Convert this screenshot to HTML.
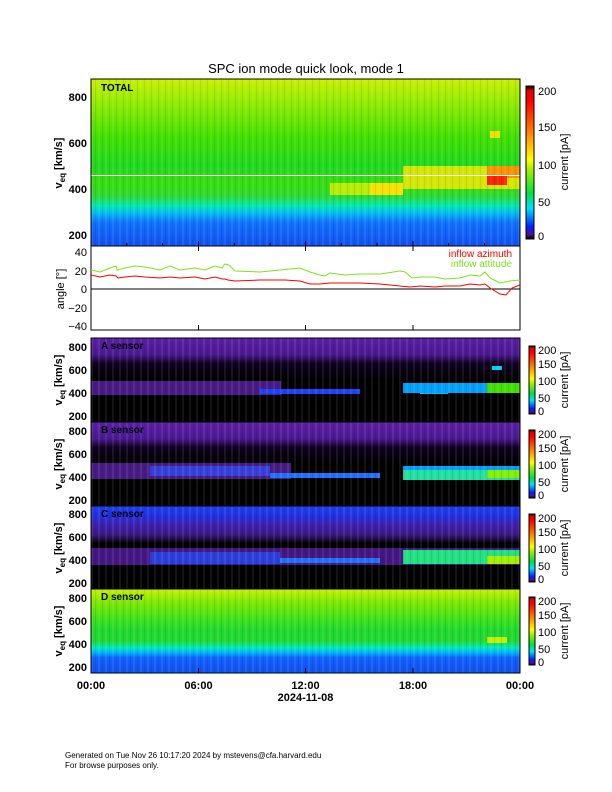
<!DOCTYPE html>
<html><head><meta charset="utf-8"><style>
html,body{margin:0;padding:0;background:#fff}
svg{display:block}
text{font-family:"Liberation Sans",sans-serif}
</style></head><body>
<svg width="612" height="792" viewBox="0 0 612 792" xmlns="http://www.w3.org/2000/svg">
<defs>
<linearGradient id="cb" x1="0" y1="1" x2="0" y2="0">
<stop offset="0" stop-color="#000"/><stop offset="0.03" stop-color="#5010a0"/><stop offset="0.08" stop-color="#0020ff"/>
<stop offset="0.2" stop-color="#00e0ff"/><stop offset="0.3" stop-color="#00e040"/><stop offset="0.45" stop-color="#a0f000"/>
<stop offset="0.52" stop-color="#ffff00"/><stop offset="0.7" stop-color="#ff8000"/><stop offset="0.9" stop-color="#ff0000"/>
<stop offset="0.97" stop-color="#e00000"/><stop offset="1" stop-color="#000"/></linearGradient>
<linearGradient id="gt" x1="0" y1="0" x2="0" y2="1">
<stop offset="0" stop-color="#c8f000"/><stop offset="0.12" stop-color="#9aec00"/><stop offset="0.35" stop-color="#40e000"/>
<stop offset="0.52" stop-color="#20d820"/><stop offset="0.62" stop-color="#38dc10"/><stop offset="0.7" stop-color="#30d830"/>
<stop offset="0.76" stop-color="#00e8b0"/><stop offset="0.8" stop-color="#00c0f0"/><stop offset="0.86" stop-color="#1070ff"/>
<stop offset="1" stop-color="#1050f0"/></linearGradient>
<linearGradient id="gd" x1="0" y1="0" x2="0" y2="1">
<stop offset="0" stop-color="#c8f000"/><stop offset="0.15" stop-color="#80e800"/><stop offset="0.4" stop-color="#30e020"/>
<stop offset="0.5" stop-color="#20d830"/><stop offset="0.62" stop-color="#20d830"/><stop offset="0.7" stop-color="#00e8c0"/>
<stop offset="0.76" stop-color="#00b0ff"/><stop offset="0.82" stop-color="#1060ff"/><stop offset="1" stop-color="#1050f0"/></linearGradient>
<linearGradient id="ga" x1="0" y1="0" x2="0" y2="1">
<stop offset="0" stop-color="#5a20a8"/><stop offset="0.2" stop-color="#4a1890"/><stop offset="0.3" stop-color="#100020"/>
<stop offset="0.5" stop-color="#000"/><stop offset="1" stop-color="#000"/></linearGradient>
<linearGradient id="gc" x1="0" y1="0" x2="0" y2="1">
<stop offset="0" stop-color="#2040f0"/><stop offset="0.12" stop-color="#2030e0"/><stop offset="0.22" stop-color="#4020b0"/>
<stop offset="0.35" stop-color="#3a1880"/><stop offset="0.45" stop-color="#000"/><stop offset="1" stop-color="#000"/></linearGradient>
<pattern id="st" width="7" height="10" patternUnits="userSpaceOnUse">
<rect x="0" y="0" width="2" height="10" fill="#fff" opacity="0.08"/><rect x="4" y="0" width="1" height="10" fill="#000" opacity="0.08"/></pattern>
</defs>

<text x="306" y="73" font-size="13" text-anchor="middle">SPC ion mode quick look, mode 1</text>

<!-- TOTAL panel -->
<rect x="91" y="79" width="429" height="167" fill="url(#gt)"/>
<rect x="403" y="166" width="117" height="23" fill="#f0e800" opacity="0.85"/>
<rect x="330" y="183" width="73" height="12" fill="#d8f000" opacity="0.8"/>
<rect x="370" y="183" width="33" height="12" fill="#f8e000"/>
<rect x="487" y="166" width="33" height="12" fill="#ff9000"/>
<rect x="487" y="175" width="20" height="10" fill="#ff2000"/>
<rect x="490" y="131" width="10" height="7" fill="#f0e000"/>
<rect x="91" y="79" width="429" height="167" fill="url(#st)"/>
<line x1="91" y1="175.5" x2="520" y2="175.5" stroke="#fff" stroke-width="1"/>
<text x="101" y="91" font-size="10" font-weight="bold">TOTAL</text>
<rect x="91" y="79" width="429" height="167" fill="none" stroke="#000"/>

<!-- angle panel -->
<rect x="91" y="246" width="429" height="84" fill="#fff" stroke="#000"/>
<line x1="91" y1="289" x2="520" y2="289" stroke="#000"/>
<polyline fill="none" stroke="#80e020" stroke-width="1" points="91,270 100,272 110,268 116,266 117,270 125,268 135,266 145,267 160,270 170,266 180,270 195,268 205,270 215,266 222,268 224,265 225,264 229,265 235,271 260,272 280,270 300,268 310,272 320,275 325,276 330,273 345,275 360,274 380,274 400,271 405,272 412,278 420,277 435,277 445,279 460,278 470,275 480,276 485,272 490,278 500,283 510,281 520,280"/>
<polyline fill="none" stroke="#ff0000" stroke-width="1" points="91,275 100,277 110,275 116,276 118,278 125,277 135,276 145,277 160,278 170,277 180,278 195,277 205,279 215,277 222,279 225,279 228,280 235,281 260,280 285,280 300,281 310,284 320,284 330,283 345,283 360,283 380,284 400,286 410,287 420,286 435,287 445,286 460,286 470,284 480,285 485,284 490,288 500,294 506,295 512,288 520,285"/>
<text x="512" y="257" font-size="10" fill="#ff0000" text-anchor="end">inflow azimuth</text>
<text x="512" y="267" font-size="10" fill="#80e020" text-anchor="end">inflow attitude</text>

<!-- A sensor -->
<rect x="91" y="338" width="429" height="84" fill="url(#ga)"/>
<rect x="91" y="381" width="190" height="14" fill="#5a20a8" opacity="0.8"/>
<rect x="260" y="389" width="100" height="5" fill="#2040ff"/>
<rect x="420" y="388" width="28" height="6" fill="#00c0f0"/>
<rect x="403" y="383" width="117" height="10" fill="#00a0ff"/>
<rect x="487" y="383" width="33" height="10" fill="#40e000"/>
<rect x="492" y="366" width="10" height="4" fill="#00d0ff"/>
<rect x="91" y="338" width="429" height="84" fill="url(#st)"/>
<text x="101" y="349" font-size="10" font-weight="bold">A sensor</text>
<rect x="91" y="338" width="429" height="84" fill="none" stroke="#000"/>

<!-- B sensor -->
<rect x="91" y="422" width="429" height="84" fill="url(#ga)"/>
<rect x="91" y="463" width="200" height="16" fill="#5a20a8" opacity="0.8"/>
<rect x="150" y="466" width="120" height="10" fill="#3050ff" opacity="0.7"/>
<rect x="270" y="473" width="110" height="5" fill="#2070ff"/>
<rect x="403" y="466" width="117" height="14" fill="#20e0a0"/>
<rect x="403" y="466" width="117" height="4" fill="#00a0ff"/>
<rect x="487" y="470" width="33" height="8" fill="#80f000"/>
<rect x="91" y="422" width="429" height="84" fill="url(#st)"/>
<text x="101" y="433" font-size="10" font-weight="bold">B sensor</text>
<rect x="91" y="422" width="429" height="84" fill="none" stroke="#000"/>

<!-- C sensor -->
<rect x="91" y="506" width="429" height="83" fill="url(#gc)"/>
<rect x="91" y="548" width="429" height="17" fill="#4a1890" opacity="0.9"/>
<rect x="150" y="552" width="130" height="12" fill="#2050ff" opacity="0.7"/>
<rect x="280" y="558" width="100" height="5" fill="#2070ff"/>
<rect x="403" y="550" width="117" height="14" fill="#20e080"/>
<rect x="487" y="556" width="33" height="8" fill="#a0f000"/>
<rect x="91" y="506" width="429" height="83" fill="url(#st)"/>
<text x="101" y="517" font-size="10" font-weight="bold">C sensor</text>
<rect x="91" y="506" width="429" height="83" fill="none" stroke="#000"/>

<!-- D sensor -->
<rect x="91" y="589" width="429" height="84" fill="url(#gd)"/>
<rect x="487" y="637" width="20" height="6" fill="#c0f000"/>
<rect x="91" y="589" width="429" height="84" fill="url(#st)"/>
<text x="101" y="600" font-size="10" font-weight="bold">D sensor</text>
<rect x="91" y="589" width="429" height="84" fill="none" stroke="#000"/>

<!-- x ticks -->
<g stroke="#000" stroke-width="1">
<path d="M91,246v-5M126.8,246v-3M162.5,246v-3M198.5,246v-5M234.3,246v-3M270,246v-3M305.5,246v-5M341.3,246v-3M377,246v-3M413,246v-5M448.7,246v-3M484.5,246v-3
M198.5,246v5M305.5,246v5M413,246v5M198.5,330v-5M305.5,330v-5M413,330v-5
M198.5,673v-5M305.5,673v-5M413,673v-5"/>
</g>

<!-- y labels -->
<g font-size="11" font-weight="bold" text-anchor="end">
<text x="87" y="101">800</text><text x="87" y="147">600</text><text x="87" y="193">400</text><text x="87" y="239">200</text>
<text x="87" y="351">800</text><text x="87" y="374">600</text><text x="87" y="397">400</text><text x="87" y="420">200</text>
<text x="87" y="435">800</text><text x="87" y="458">600</text><text x="87" y="481">400</text><text x="87" y="504">200</text>
<text x="87" y="518">800</text><text x="87" y="541">600</text><text x="87" y="564">400</text><text x="87" y="587">200</text>
<text x="87" y="602">800</text><text x="87" y="625">600</text><text x="87" y="648">400</text><text x="87" y="671">200</text>
</g>
<g font-size="11" text-anchor="end">
<text x="87" y="256">40</text><text x="87" y="275">20</text><text x="87" y="293">0</text><text x="87" y="312">−20</text><text x="87" y="330">−40</text>
</g>
<g font-size="11" font-weight="bold">
<text transform="translate(62,163) rotate(-90)" text-anchor="middle">v<tspan font-size="8" dy="3">eq</tspan><tspan dy="-3"> [km/s]</tspan></text>
<text transform="translate(62,380) rotate(-90)" text-anchor="middle">v<tspan font-size="8" dy="3">eq</tspan><tspan dy="-3"> [km/s]</tspan></text>
<text transform="translate(62,464) rotate(-90)" text-anchor="middle">v<tspan font-size="8" dy="3">eq</tspan><tspan dy="-3"> [km/s]</tspan></text>
<text transform="translate(62,548) rotate(-90)" text-anchor="middle">v<tspan font-size="8" dy="3">eq</tspan><tspan dy="-3"> [km/s]</tspan></text>
<text transform="translate(62,631) rotate(-90)" text-anchor="middle">v<tspan font-size="8" dy="3">eq</tspan><tspan dy="-3"> [km/s]</tspan></text>
</g>
<text transform="translate(64,289) rotate(-90)" font-size="11" text-anchor="middle">angle [°]</text>

<!-- colorbars -->
<rect x="526" y="86" width="8" height="153" fill="url(#cb)" stroke="#000"/>
<g font-size="11" text-anchor="start">
<text x="538" y="95">200</text><text x="538" y="131">150</text><text x="538" y="169">100</text><text x="538" y="206">50</text><text x="538" y="240">0</text>
</g>
<text transform="translate(568,162) rotate(-90)" font-size="11" text-anchor="middle">current [pA]</text>

<g font-size="11">
<rect x="529" y="346" width="6" height="68" fill="url(#cb)" stroke="#000"/>
<text x="538" y="354">200</text><text x="538" y="368">150</text><text x="538" y="385">100</text><text x="538" y="402">50</text><text x="538" y="415">0</text>
<text transform="translate(568,380) rotate(-90)" text-anchor="middle">current [pA]</text>
<rect x="529" y="430" width="6" height="68" fill="url(#cb)" stroke="#000"/>
<text x="538" y="438">200</text><text x="538" y="452">150</text><text x="538" y="469">100</text><text x="538" y="486">50</text><text x="538" y="499">0</text>
<text transform="translate(568,464) rotate(-90)" text-anchor="middle">current [pA]</text>
<rect x="529" y="514" width="6" height="68" fill="url(#cb)" stroke="#000"/>
<text x="538" y="522">200</text><text x="538" y="536">150</text><text x="538" y="553">100</text><text x="538" y="570">50</text><text x="538" y="583">0</text>
<text transform="translate(568,548) rotate(-90)" text-anchor="middle">current [pA]</text>
<rect x="529" y="597" width="6" height="68" fill="url(#cb)" stroke="#000"/>
<text x="538" y="605">200</text><text x="538" y="619">150</text><text x="538" y="636">100</text><text x="538" y="653">50</text><text x="538" y="666">0</text>
<text transform="translate(568,631) rotate(-90)" text-anchor="middle">current [pA]</text>
</g>

<!-- time axis -->
<g font-size="11" font-weight="bold" text-anchor="middle">
<text x="91" y="689">00:00</text><text x="198.5" y="689">06:00</text><text x="305.5" y="689">12:00</text><text x="413" y="689">18:00</text><text x="520" y="689">00:00</text>
<text x="305.5" y="701">2024-11-08</text>
</g>

<text x="65" y="758" font-size="8">Generated on Tue Nov 26 10:17:20 2024 by mstevens@cfa.harvard.edu</text>
<text x="65" y="768" font-size="8">For browse purposes only.</text>
</svg>
</body></html>
